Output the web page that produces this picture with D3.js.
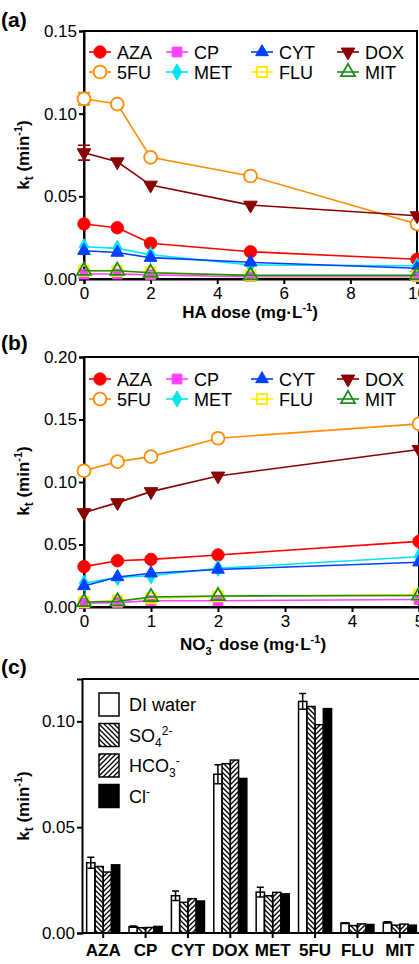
<!DOCTYPE html>
<html>
<head>
<meta charset="utf-8">
<script src="https://cdn.jsdelivr.net/npm/d3@7"></script>
<style>
  body { margin: 0; background: #fff; }
  svg { display: block; font-family: "Liberation Sans", Arial, sans-serif; }
</style>
</head>
<body>
<div id="fig"></div>
<script>
// series names and colours (legend order, column by column)
const seriesNames = ["AZA", "5FU", "CP", "MET", "CYT", "FLU", "DOX", "MIT"];

// (a) HA dose
const haDose = [0, 1, 2, 5, 10];
const haAZA = [0.0333, 0.0310, 0.0216, 0.0165, 0.0119];
const ha5FU = [0.1090, 0.1058, 0.0736, 0.0623, 0.0333];
const haCP  = [0.0030, 0.0030, 0.0025, 0.0014, 0.0014];
const haMET = [0.0195, 0.0185, 0.0147, 0.0085, 0.0080];
const haCYT = [0.0171, 0.0160, 0.0129, 0.0101, 0.0065];
const haFLU = [0.0050, 0.0048, 0.0040, 0.0020, 0.0020];
const haDOX = [0.0764, 0.0709, 0.0568, 0.0447, 0.0383];
const haMIT = [0.0050, 0.0050, 0.0038, 0.0022, 0.0022];
const ha5FUerr = [0.0037, 0, 0, 0, 0];
const haDOXerr = [0.0045, 0, 0, 0, 0];

// (b) NO3- dose
const no3Dose = [0, 0.5, 1, 2, 5];
const noAZA = [0.0323, 0.0370, 0.0381, 0.0416, 0.0525];
const no5FU = [0.1090, 0.1163, 0.1203, 0.1350, 0.1465];
const noCP  = [0.0030, 0.0035, 0.0050, 0.0050, 0.0060];
const noMET = [0.0190, 0.0237, 0.0250, 0.0310, 0.0402];
const noCYT = [0.0168, 0.0240, 0.0270, 0.0300, 0.0358];
const noFLU = [0.0040, 0.0050, 0.0070, 0.0085, 0.0100];
const noDOX = [0.0755, 0.0835, 0.0923, 0.1048, 0.1260];
const noMIT = [0.0040, 0.0045, 0.0080, 0.0088, 0.0092];

// (c) anions
const drugs = ["AZA", "CP", "CYT", "DOX", "MET", "5FU", "FLU", "MIT"];
const diWater = [0.0332, 0.0030, 0.0176, 0.0750, 0.0193, 0.1094, 0.0047, 0.0050];
const diErr   = [0.0026, 0.0003, 0.0022, 0.0045, 0.0023, 0.0037, 0.0002, 0.0003];
const so4     = [0.0314, 0.0025, 0.0145, 0.0800, 0.0176, 0.1070, 0.0035, 0.0037];
const hco3    = [0.0288, 0.0026, 0.0162, 0.0817, 0.0192, 0.0984, 0.0043, 0.0042];
const cl      = [0.0322, 0.0031, 0.0151, 0.0730, 0.0185, 0.1060, 0.0040, 0.0037];

const W = 419, H = 964;
const svg = d3.select("#fig").append("svg").attr("width", W).attr("height", H);

const styles = {
  AZA: {color: "#ff0000", shape: d3.symbolCircle, size: 120, open: false},
  "5FU": {color: "#ff8c00", shape: d3.symbolCircle, size: 130, open: true, fill: "#fff"},
  CP:  {color: "#ff40ff", shape: d3.symbolSquare, size: 95, open: false},
  MET: {color: "#00e5f0", shape: d3.symbolDiamond, size: 75, open: false},
  CYT: {color: "#0040ff", shape: d3.symbolTriangle, size: 70, open: false},
  FLU: {color: "#ffee00", shape: d3.symbolSquare, size: 100, open: true, fill: "none"},
  DOX: {color: "#8b0000", shape: d3.symbolTriangle, size: 80, open: false, flip: true},
  MIT: {color: "#1a8c1a", shape: d3.symbolTriangle, size: 85, open: true, fill: "none"}
};

function marker(g, name, x, y) {
  const s = styles[name];
  g.append("path")
    .attr("d", d3.symbol().type(s.shape).size(s.size)())
    .attr("transform", `translate(${x},${y})` + (s.flip ? " rotate(180)" : ""))
    .attr("fill", s.open ? s.fill : s.color)
    .attr("stroke", s.color)
    .attr("stroke-width", s.open ? 1.8 : 1);
}

// y label kt (min-1), rotated
function yLabel(cx, cy) {
  const t = svg.append("text")
    .attr("transform", `translate(${cx},${cy}) rotate(-90)`)
    .attr("text-anchor", "middle")
    .attr("font-weight", "bold").attr("font-size", 17);
  t.append("tspan").text("k");
  t.append("tspan").attr("dy", 4).attr("font-size", 12).text("t");
  t.append("tspan").attr("dy", -4).text(" (min");
  t.append("tspan").attr("dy", -7).attr("font-size", 11).text("-1");
  t.append("tspan").attr("dy", 7).text(")");
}

function panelLabel(txt, y) {
  svg.append("text").attr("x", 1).attr("y", y)
    .attr("font-weight", "bold").attr("font-size", 21).text(txt);
}

function styleAxis(g) {
  g.selectAll(".domain").attr("stroke-width", 2);
  g.selectAll(".tick line").attr("stroke-width", 2);
  g.selectAll(".tick text").attr("font-size", 17).attr("font-family", "Liberation Sans, Arial, sans-serif");
}

// line panel (a) and (b)
function linePanel(opt) {
  const x = d3.scaleLinear().domain(opt.xDomain).range([84, opt.xRight]);
  const y = d3.scaleLinear().domain(opt.yDomain).range([opt.bottom, opt.top]);

  // frame
  svg.append("rect")
    .attr("x", x.range()[0]).attr("y", opt.top)
    .attr("width", x.range()[1] - x.range()[0]).attr("height", opt.bottom - opt.top)
    .attr("fill", "none").attr("stroke", "#000").attr("stroke-width", 2);

  const gy = svg.append("g").attr("transform", `translate(84,0)`)
    .call(d3.axisLeft(y).tickValues(opt.yTicks).tickFormat(d3.format(".2f")).tickSize(5).tickPadding(2));
  styleAxis(gy);
  const gx = svg.append("g").attr("transform", `translate(0,${opt.bottom})`)
    .call(d3.axisBottom(x).tickValues(opt.xTicks).tickFormat(d3.format("d")).tickSize(5).tickPadding(3));
  styleAxis(gx);

  const line = d3.line().x(d => x(d[0])).y(d => y(d[1]));
  seriesNames.forEach(name => {
    const vals = opt.data[name];
    const pts = opt.dose.map((d, i) => [d, vals[i]]);
    const g = svg.append("g");
    g.append("path").datum(pts).attr("d", line)
      .attr("fill", "none").attr("stroke", styles[name].color).attr("stroke-width", 1.6);
    const err = opt.err[name];
    if (err) {
      pts.forEach((p, i) => {
        if (!err[i]) return;
        const xx = x(p[0]), y1 = y(p[1] - err[i]), y2 = y(p[1] + err[i]);
        g.append("path")
          .attr("d", `M${xx},${y1}V${y2}M${xx - 6},${y1}H${xx + 6}M${xx - 6},${y2}H${xx + 6}`)
          .attr("stroke", styles[name].color).attr("stroke-width", 1.6).attr("fill", "none");
      });
    }
    pts.forEach(p => marker(g, name, x(p[0]), y(p[1])));
  });

  // legend
  const colX = [100, 177, 262, 348];
  seriesNames.forEach((name, i) => {
    const cx = colX[Math.floor(i / 2)];
    const cy = opt.legendY + (i % 2) * 20;
    const g = svg.append("g");
    g.append("line").attr("x1", cx - 11).attr("x2", cx + 11).attr("y1", cy).attr("y2", cy)
      .attr("stroke", styles[name].color).attr("stroke-width", 1.6);
    marker(g, name, cx, cy);
    g.append("text").attr("x", cx + 17).attr("y", cy + 6.5)
      .attr("font-size", 18).text(name);
  });
}

// (a)
panelLabel("(a)", 27);
linePanel({
  xDomain: [0, 10], xRight: 417, xTicks: [0, 2, 4, 6, 8, 10],
  yDomain: [0, 0.15], yTicks: [0, 0.05, 0.10, 0.15], top: 31, bottom: 279,
  dose: haDose, legendY: 52,
  data: {AZA: haAZA, "5FU": ha5FU, CP: haCP, MET: haMET, CYT: haCYT, FLU: haFLU, DOX: haDOX, MIT: haMIT},
  err: {"5FU": ha5FUerr, DOX: haDOXerr}
});
yLabel(29, 155);
{
  const t = svg.append("text").attr("x", 250).attr("y", 318)
    .attr("text-anchor", "middle").attr("font-weight", "bold").attr("font-size", 17);
  t.append("tspan").text("HA dose (mg·L");
  t.append("tspan").attr("dy", -7).attr("font-size", 11).text("-1");
  t.append("tspan").attr("dy", 7).text(")");
}

// (b)
panelLabel("(b)", 350);
linePanel({
  xDomain: [0, 5], xRight: 419, xTicks: [0, 1, 2, 3, 4, 5],
  yDomain: [0, 0.20], yTicks: [0, 0.05, 0.10, 0.15, 0.20], top: 357, bottom: 607,
  dose: no3Dose, legendY: 379,
  data: {AZA: noAZA, "5FU": no5FU, CP: noCP, MET: noMET, CYT: noCYT, FLU: noFLU, DOX: noDOX, MIT: noMIT},
  err: {}
});
yLabel(29, 481);
{
  const t = svg.append("text").attr("x", 253).attr("y", 650)
    .attr("text-anchor", "middle").attr("font-weight", "bold").attr("font-size", 17);
  t.append("tspan").text("NO");
  t.append("tspan").attr("dy", 5).attr("font-size", 11).text("3");
  t.append("tspan").attr("dy", -12).attr("dx", -1).attr("font-size", 11).text("-");
  t.append("tspan").attr("dy", 7).text(" dose (mg·L");
  t.append("tspan").attr("dy", -7).attr("font-size", 11).text("-1");
  t.append("tspan").attr("dy", 7).text(")");
}

// (c) bar chart
panelLabel("(c)", 674);
const defs = svg.append("defs");
function hatch(id, d) {
  defs.append("pattern").attr("id", id).attr("patternUnits", "userSpaceOnUse")
    .attr("width", 5).attr("height", 5)
    .append("path").attr("d", d).attr("stroke", "#000").attr("stroke-width", 1.3);
}
hatch("back", "M0,0L5,5M-1,4L1,6M4,-1L6,1");
hatch("fwd", "M0,5L5,0M-1,1L1,-1M4,6L6,4");

const conds = ["DI water", "SO4", "HCO3", "Cl"];
const condFill = ["#fff", "url(#back)", "url(#fwd)", "#000"];
const condVals = [diWater, so4, hco3, cl];

const cTop = 679, cBottom = 933, cLeft = 82;
const xc = d3.scaleBand().domain(drugs).range([cLeft, 421]).paddingInner(0.22).paddingOuter(0.11);
const xs = d3.scaleBand().domain(conds).range([0, xc.bandwidth()]);
const yc = d3.scaleLinear().domain([0, 0.12]).range([cBottom, cTop]);

svg.append("line").attr("x1", cLeft).attr("x2", W).attr("y1", cTop).attr("y2", cTop)
  .attr("stroke", "#000").attr("stroke-width", 2);

condVals.forEach((vals, j) => {
  svg.append("g").selectAll("rect").data(drugs).join("rect")
    .attr("x", d => xc(d) + xs(conds[j]))
    .attr("y", (d, i) => yc(vals[i]))
    .attr("width", xs.bandwidth())
    .attr("height", (d, i) => cBottom - yc(vals[i]))
    .attr("fill", condFill[j]).attr("stroke", "#000").attr("stroke-width", 1.5);
});
// error bars on DI water
svg.append("g").selectAll("path").data(drugs).join("path")
  .attr("d", (d, i) => {
    const xx = xc(d) + xs(conds[0]) + xs.bandwidth() / 2;
    const y1 = yc(diWater[i] - diErr[i]), y2 = yc(diWater[i] + diErr[i]);
    return `M${xx},${y1}V${y2}M${xx - 3.5},${y1}H${xx + 3.5}M${xx - 3.5},${y2}H${xx + 3.5}`;
  })
  .attr("stroke", "#000").attr("stroke-width", 1.5).attr("fill", "none");

const gyc = svg.append("g").attr("transform", `translate(${cLeft},0)`)
  .call(d3.axisLeft(yc).tickValues([0, 0.05, 0.10]).tickFormat(d3.format(".2f")).tickSize(5).tickPadding(2));
styleAxis(gyc);
const gxc = svg.append("g").attr("transform", `translate(0,${cBottom})`)
  .call(d3.axisBottom(xc).tickSize(5).tickSizeOuter(0).tickPadding(6));
styleAxis(gxc);
gxc.select(".domain").attr("d", `M${cLeft},0H${W}`);
gxc.selectAll(".tick text").attr("font-weight", "bold").attr("font-size", 17);
yLabel(29, 806);

// legend (c)
const legC = svg.append("g");
conds.forEach((c, j) => {
  const y0 = 693 + j * 30.5;
  legC.append("rect").attr("x", 99).attr("y", y0).attr("width", 20).attr("height", 23)
    .attr("fill", condFill[j]).attr("stroke", "#000").attr("stroke-width", 1.5);
  const t = legC.append("text").attr("x", 129).attr("y", y0 + 18).attr("font-size", 18);
  if (j === 0) t.text("DI water");
  if (j === 1) {
    t.append("tspan").text("SO");
    t.append("tspan").attr("dy", 5).attr("font-size", 12).text("4");
    t.append("tspan").attr("dy", -12).attr("font-size", 12).text("2-");
  }
  if (j === 2) {
    t.append("tspan").text("HCO");
    t.append("tspan").attr("dy", 5).attr("font-size", 12).text("3");
    t.append("tspan").attr("dy", -12).attr("font-size", 12).text("-");
  }
  if (j === 3) {
    t.append("tspan").text("Cl");
    t.append("tspan").attr("dy", -7).attr("font-size", 12).text("-");
  }
});
</script>
</body>
</html>
